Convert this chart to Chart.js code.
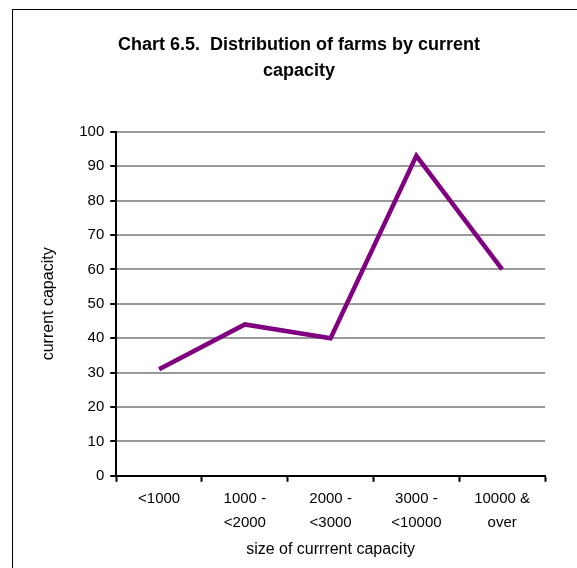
<!DOCTYPE html>
<html lang="en">
<head>
<meta charset="UTF-8">
<title>Chart 6.5</title>
<script src="https://cdn.jsdelivr.net/npm/chart.js"></script>
<style>
    html, body {
        margin: 0;
        padding: 0;
        background: #fff;
        overflow: hidden;
    }
    #frame {
        position: absolute;
        left: 12px;
        top: 9px;
        width: 578px;
        height: 580px;
        border: 1px solid #000;
        box-sizing: border-box;
    }
    #frame canvas {
        display: block;
    }
</style>
<script>
    // categories and values
    const categories = [['<1000'], ['1000 -', '<2000'], ['2000 -', '<3000'], ['3000 -', '<10000'], ['10000 &', 'over']];
    const capacity = [31, 44, 40, 93, 60];
    const yTicks = [0, 10, 20, 30, 40, 50, 60, 70, 80, 90, 100];

    const titleLines = ['Chart 6.5.  Distribution of farms by current', 'capacity'];
    const xTitle = 'size of currrent capacity';
    const yTitle = 'current capacity';

    document.addEventListener('DOMContentLoaded', function () {
        const font = 'Liberation Sans, Arial, sans-serif';
        new Chart(document.getElementById('chart'), {
            type: 'line',
            data: {
                labels: categories,
                datasets: [{
                    label: 'current capacity',
                    data: capacity,
                    borderColor: '#800080',
                    borderWidth: 4.5,
                    pointRadius: 0,
                    tension: 0,
                    fill: false,
                    clip: false
                }]
            },
            options: {
                responsive: false,
                animation: false,
                layout: { padding: { left: 26, right: 30, top: 0, bottom: 29 } },
                plugins: {
                    legend: { display: false },
                    tooltip: { enabled: false },
                    title: {
                        display: true,
                        text: titleLines,
                        color: '#000',
                        font: { family: font, size: 18, weight: 'bold', lineHeight: 1.44 },
                        padding: { top: 22, bottom: 48 }
                    }
                },
                scales: {
                    x: {
                        offset: true,
                        grid: {
                            offset: true,
                            drawOnChartArea: false,
                            tickLength: 6,
                            tickColor: '#000',
                            tickWidth: 2
                        },
                        border: { color: '#000', width: 2 },
                        ticks: {
                            color: '#000',
                            padding: 5,
                            maxRotation: 0,
                            autoSkip: false,
                            font: { family: font, size: 15, lineHeight: 1.6 }
                        },
                        title: {
                            display: true,
                            text: xTitle,
                            color: '#000',
                            font: { family: font, size: 16 },
                            padding: { top: 0, bottom: 0 }
                        }
                    },
                    y: {
                        min: yTicks[0],
                        max: yTicks[yTicks.length - 1],
                        afterBuildTicks: function (scale) {
                            scale.ticks = yTicks.map(v => ({ value: v }));
                        },
                        grid: {
                            color: '#999',
                            lineWidth: 2,
                            tickLength: 6,
                            tickColor: '#000',
                            tickWidth: 2
                        },
                        border: { color: '#000', width: 2 },
                        ticks: {
                            color: '#000',
                            padding: 6,
                            font: { family: font, size: 15 }
                        },
                        title: {
                            display: true,
                            text: yTitle,
                            color: '#000',
                            font: { family: font, size: 16 },
                            padding: { top: 0, bottom: 15 }
                        }
                    },
                    // empty spacer on the right so the plot ends where the original does
                    spacer: {
                        position: 'right',
                        grid: { display: false, drawTicks: false },
                        border: { display: false },
                        ticks: { display: false },
                        afterFit: function (scale) {
                            scale.width = 14;
                        }
                    }
                }
            }
        });
    });
</script>
</head>
<body>
    <div id="frame">
        <canvas id="chart" width="576" height="578"></canvas>
    </div>
</body>
</html>
